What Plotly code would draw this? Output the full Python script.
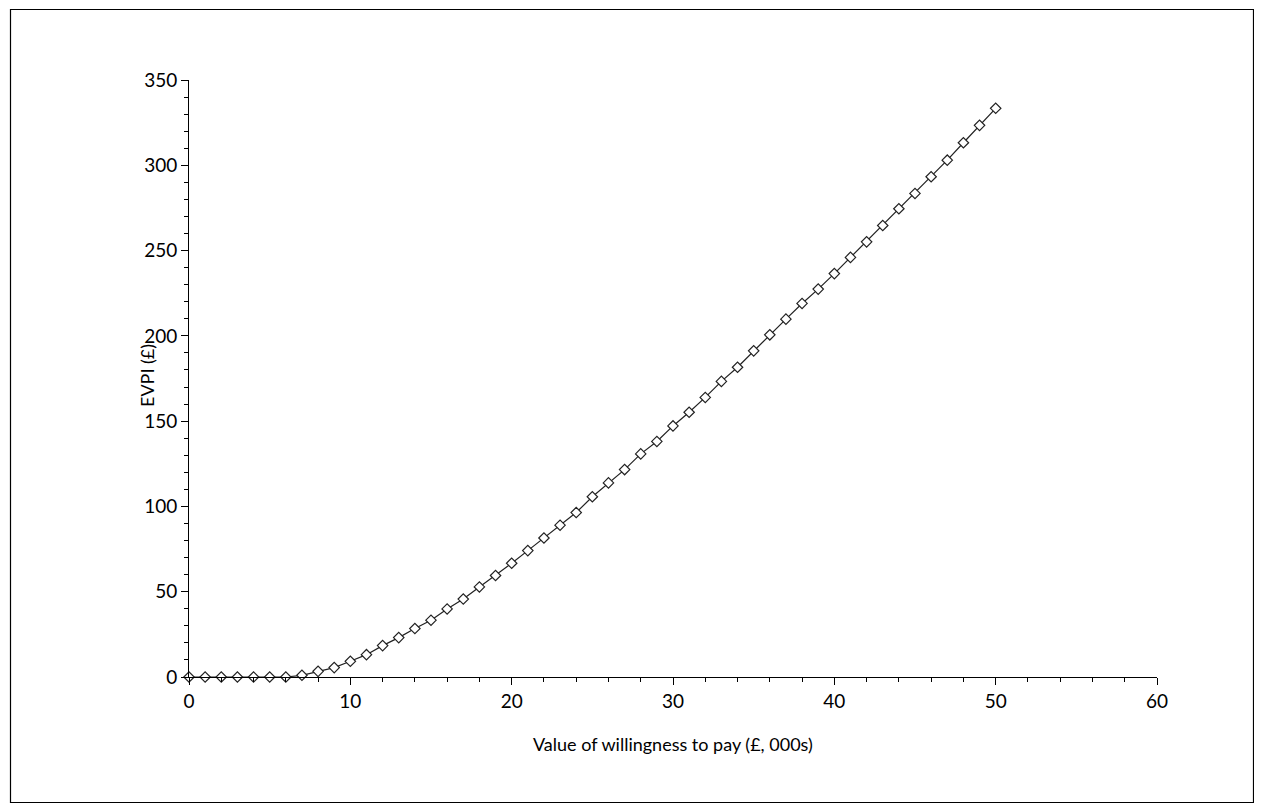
import plotly.graph_objects as go

wtp = list(range(0, 51))
evpi = [0, 0, 0, 0, 0, 0, 0, 1.0, 3.3, 5.5,
        9.2, 13.1, 18.4, 23.1, 28.4, 33.3, 39.9, 45.7, 52.8, 59.5,
        66.7, 74.1, 81.5, 89.0, 96.4, 105.7, 113.8, 121.6, 130.8, 138.1,
        147.2, 155.2, 163.9, 173.3, 181.6, 191.2, 200.6, 209.8, 219.0, 227.4,
        236.5, 246.0, 255.1, 264.7, 274.5, 283.5, 293.3, 303.0, 313.2, 323.4,
        333.4]

x_title = "Value of willingness to pay (£, 000s)"
y_title = "EVPI (£)"

FONT = "Lato, 'Open Sans', sans-serif"

# page has an 8px body margin; work in figure coordinates (page - 8)
OFF = 8
FW, FH = 1262 - 2 * OFF, 811 - 2 * OFF
px_left, px_right, px_top, px_bottom = 189 - OFF, 1157 - OFF, 80 - OFF, 677 - OFF
L, R, T, B = px_left, FW - px_right, px_top, FH - px_bottom
W, H = px_right - px_left, px_bottom - px_top


def xp(page_x):
    return (page_x - OFF - px_left) / W


def yp(page_y):
    return (px_bottom - (page_y - OFF)) / H


fig = go.Figure()
fig.add_trace(go.Scatter(
    x=wtp, y=evpi, mode="lines+markers",
    line=dict(color="#222222", width=1.2),
    marker=dict(symbol="diamond", size=8, color="white",
                line=dict(color="#222222", width=1.2)),
    cliponaxis=False, showlegend=False,
))

fig.update_layout(
    width=FW, height=FH,
    margin=dict(l=L, r=R, t=T, b=B, pad=0),
    paper_bgcolor="white", plot_bgcolor="white",
    font=dict(family=FONT, size=19, color="black"),
    xaxis=dict(range=[0, 60], dtick=10, tick0=0, showgrid=False, zeroline=False,
               showline=True, linecolor="black", linewidth=1,
               ticks="outside", ticklen=7, tickwidth=1, tickcolor="black",
               minor=dict(dtick=2, ticks="outside", ticklen=4, tickwidth=1,
                          tickcolor="black", showgrid=False),
               tickfont=dict(size=19)),
    yaxis=dict(range=[0, 350], dtick=50, tick0=0, showgrid=False, zeroline=False,
               showline=True, linecolor="black", linewidth=1,
               ticks="outside", ticklen=7, tickwidth=1, tickcolor="black",
               minor=dict(dtick=10, ticks="outside", ticklen=4, tickwidth=1,
                          tickcolor="black", showgrid=False),
               tickfont=dict(size=19)),
    annotations=[
        dict(text=x_title, xref="paper", yref="paper",
             x=0.5, y=yp(744), xanchor="center", yanchor="middle",
             showarrow=False, font=dict(size=18)),
        dict(text=y_title, xref="paper", yref="paper",
             x=xp(147), y=yp(376), xanchor="center", yanchor="middle",
             textangle=-90, showarrow=False, font=dict(size=18)),
    ],
    shapes=[dict(type="rect", xref="paper", yref="paper",
                 x0=xp(10.5), x1=xp(1253.5),
                 y0=yp(802.5), y1=yp(9.5),
                 line=dict(color="black", width=1.2), fillcolor="rgba(0,0,0,0)")],
)

fig.write_html("out.html")
